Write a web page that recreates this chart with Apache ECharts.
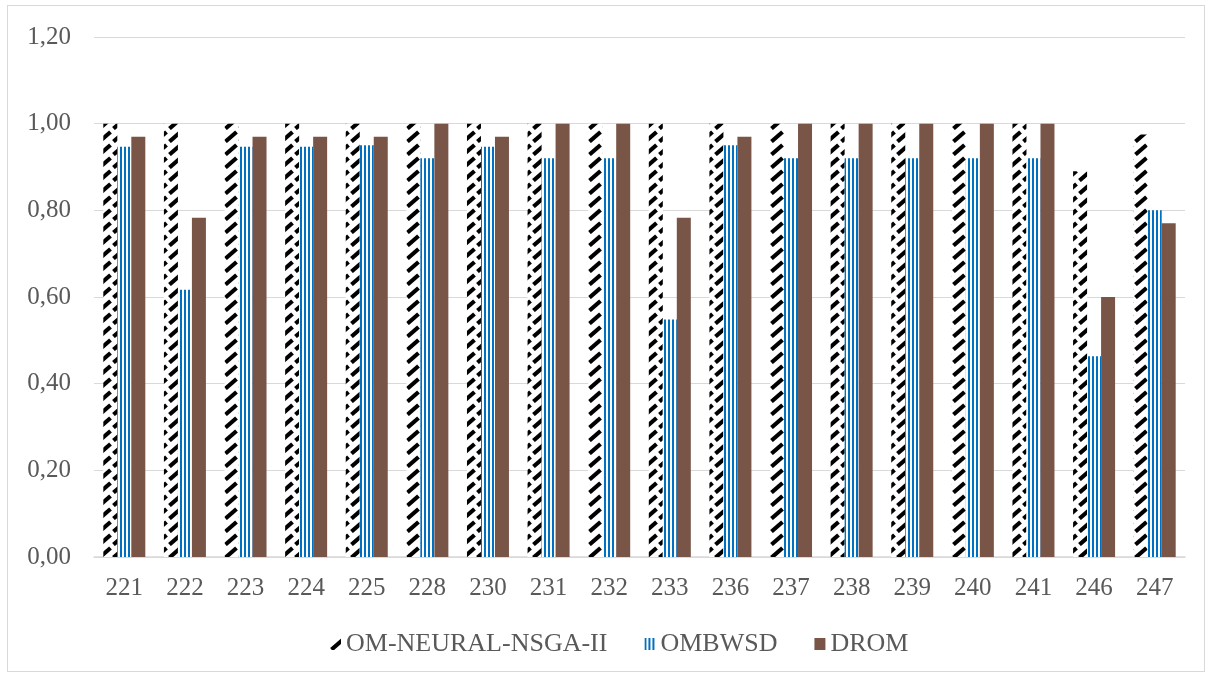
<!DOCTYPE html>
<html>
<head>
<meta charset="utf-8">
<script src="https://cdn.jsdelivr.net/npm/echarts@6/dist/echarts.min.js"></script>
<style>
  html, body { margin: 0; padding: 0; background: #fff; }
  #frame { position: absolute; left: 7px; top: 5px; width: 1198px; height: 667px; border: 1px solid #d9d9d9; box-sizing: border-box; }
  #chart { position: absolute; left: 0; top: 0; width: 1213px; height: 677px; }
</style>
</head>
<body>
<div id="frame"></div>
<div id="chart"></div>
<script>
// Instance identifiers on the horizontal axis
const categories = ['221', '222', '223', '224', '225', '228', '230', '231', '232', '233', '236', '237', '238', '239', '240', '241', '246', '247'];
// Scores per method
const neuralNsga = [1.00, 1.00, 1.00, 1.00, 1.00, 1.00, 1.00, 1.00, 1.00, 1.00, 1.00, 1.00, 1.00, 1.00, 1.00, 1.00, 0.89, 0.975];
const ombwsd = [0.947, 0.617, 0.947, 0.947, 0.95, 0.92, 0.947, 0.92, 0.92, 0.548, 0.95, 0.92, 0.92, 0.92, 0.92, 0.92, 0.463, 0.80];
const drom = [0.97, 0.783, 0.97, 0.97, 0.97, 1.00, 0.97, 1.00, 1.00, 0.783, 0.97, 1.00, 1.00, 1.00, 1.00, 1.00, 0.60, 0.77];
const seriesNames = ['OM-NEURAL-NSGA-II', 'OMBWSD', 'DROM'];

// Dashed upward-diagonal hatch fill
function hatchPattern() {
  const c = document.createElement('canvas');
  c.width = 14; c.height = 13;
  const g = c.getContext('2d');
  g.fillStyle = '#fff';
  g.fillRect(0, 0, 14, 13);
  g.strokeStyle = '#000';
  g.lineWidth = 4.2;
  g.lineCap = 'butt';
  g.beginPath();
  g.moveTo(1.5, 11.5);
  g.lineTo(12.5, 2);
  g.stroke();
  return { image: c, repeat: 'repeat' };
}

// Vertical blue stripes fill
function stripePattern() {
  const c = document.createElement('canvas');
  c.width = 4; c.height = 4;
  const g = c.getContext('2d');
  g.fillStyle = '#fff';
  g.fillRect(0, 0, 4, 4);
  g.fillStyle = '#0070c0';
  g.fillRect(0, 0, 2, 4);
  return { image: c, repeat: 'repeat' };
}

const font = 'Liberation Serif';
const chart = echarts.init(document.getElementById('chart'), null, { renderer: 'canvas' });

chart.setOption({
  backgroundColor: 'transparent',
  animation: false,
  textStyle: { fontFamily: font },
  grid: { left: 94, right: 28, top: 37, bottom: 120 },
  legend: {
    top: 626,
    left: 325,
    itemWidth: 11,
    itemHeight: 12,
    itemGap: 37,
    icon: 'rect',
    textStyle: { fontFamily: font, fontSize: 26, color: '#595959' },
    data: seriesNames
  },
  xAxis: {
    type: 'category',
    data: categories,
    axisLine: { lineStyle: { color: '#d9d9d9', width: 1.5 } },
    axisTick: { show: false },
    axisLabel: { color: '#595959', fontSize: 25, fontFamily: font, margin: 19 }
  },
  yAxis: {
    type: 'value',
    min: 0,
    max: 1.2,
    interval: 0.2,
    axisLine: { show: false },
    axisTick: { show: false },
    splitLine: { lineStyle: { color: '#d9d9d9', width: 1.2 } },
    axisLabel: {
      color: '#595959', fontSize: 25, fontFamily: font, margin: 23,
      formatter: v => v.toFixed(2).replace('.', ',')
    }
  },
  series: [
    {
      name: seriesNames[0], type: 'bar', data: neuralNsga,
      barWidth: 14, barGap: '0%',
      itemStyle: { color: hatchPattern() }
    },
    {
      name: seriesNames[1], type: 'bar', data: ombwsd,
      barWidth: 14, barGap: '0%',
      itemStyle: { color: stripePattern() }
    },
    {
      name: seriesNames[2], type: 'bar', data: drom,
      barWidth: 14, barGap: '0%',
      itemStyle: { color: '#795548' }
    }
  ]
});
</script>
</body>
</html>
